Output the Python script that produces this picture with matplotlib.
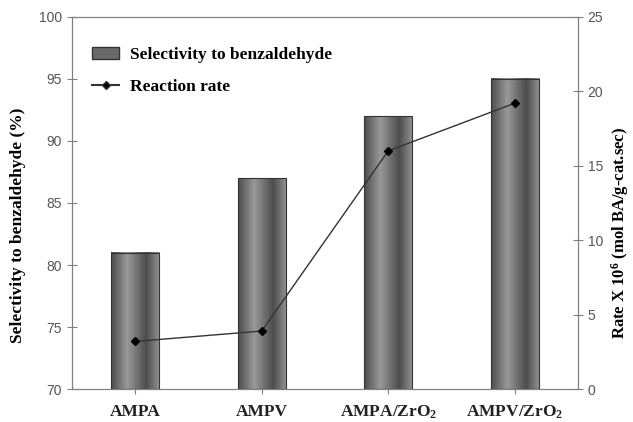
import numpy as np
import matplotlib
matplotlib.use("Agg")
import matplotlib.pyplot as plt
from matplotlib.patches import Patch
from matplotlib.lines import Line2D

# data
catalysts = ["AMPA", "AMPV", "AMPA/ZrO$_2$", "AMPV/ZrO$_2$"]
selectivity = [81, 87, 92, 95]
rate = [3.2, 3.9, 16.0, 19.2]

plt.rcParams["mathtext.default"] = "regular"
serif = "Liberation Serif"
sans = "Liberation Sans"
grey = "#808080"

fig = plt.figure(figsize=(6.33, 4.22), dpi=100)
ax = fig.add_axes([0.1137, 0.078, 0.7994, 0.882])
ax2 = ax.twinx()

x = np.arange(len(catalysts))
width = 0.38

# cylinder-like grey shading across each bar
stops = np.array([0.0, 0.33, 0.72, 1.0])
vals = np.array([0.30, 0.60, 0.30, 0.58])
grad = np.interp(np.linspace(0, 1, 100), stops, vals).reshape(1, -1)

bars = ax.bar(x, np.array(selectivity) - 70, bottom=70, width=width,
              facecolor="none", edgecolor="#333333", linewidth=0.8, zorder=3)
for b in bars:
    x0, y0 = b.get_x(), b.get_y()
    ax.imshow(grad, extent=[x0, x0 + b.get_width(), y0, y0 + b.get_height()],
              aspect="auto", cmap="gray", vmin=0, vmax=1, zorder=2)

ax.set_xlim(-0.5, len(catalysts) - 0.5)
ax.set_ylim(70, 100)
ax.set_yticks(range(70, 101, 5))

ax2.plot(x, rate, color="#333333", linewidth=1.0, marker="D", markersize=4,
         markerfacecolor="black", markeredgecolor="black")
ax2.set_ylim(0, 25)
ax2.set_yticks(range(0, 26, 5))

for a in (ax, ax2):
    for s in a.spines.values():
        s.set_color(grey)
    a.tick_params(direction="inout", length=7, color=grey, labelcolor="#555555",
                  labelsize=10)
    for t in a.get_yticklabels():
        t.set_fontfamily(sans)

ax.set_xticks(x)
ax.set_xticklabels(catalysts, fontfamily=serif, fontweight="bold", fontsize=12.5,
                   color="#222222")
ax.tick_params(axis="x", pad=7)

ax.set_ylabel("Selectivity to benzaldehyde (%)", fontfamily=serif,
              fontweight="bold", fontsize=12.5)
ax.yaxis.set_label_coords(-0.09, 0.44)
ax2.set_ylabel("Rate X 10$^6$ (mol BA/g-cat.sec)", fontfamily=serif,
               fontweight="bold", fontsize=12)
ax2.yaxis.set_label_coords(1.062, 0.42)

handles = [Patch(facecolor="#6a6a6a", edgecolor="#333333"),
           Line2D([0], [0], color="#333333", marker="D", markersize=4,
                  markerfacecolor="black")]
ax2.legend(handles, ["Selectivity to benzaldehyde", "Reaction rate"],
           loc="upper left", bbox_to_anchor=(0.008, 0.961), frameon=False,
           prop={"family": serif, "weight": "bold", "size": 12.5},
           handlelength=1.6, handletextpad=0.6, labelspacing=0.9)

fig.savefig("out.png", dpi=100)
